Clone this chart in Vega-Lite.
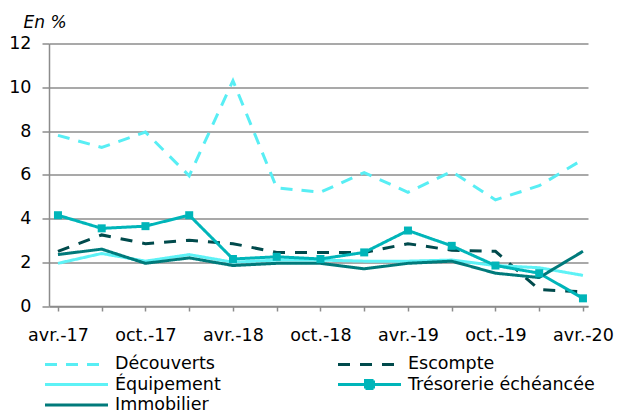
{
  "$schema": "https://vega.github.io/schema/vega-lite/v6.json",
  "width": 539,
  "height": 262.5,
  "autosize": {"type": "none"},
  "padding": {"left": 49, "top": 43.5, "right": 29, "bottom": 108},
  "background": "white",
  "config": {
    "view": {"stroke": null},
    "font": "DejaVu Sans"
  },
  "data": {
    "values": [
      {"periode": "avr.-17", "serie": "Découverts", "taux": 7.8},
      {"periode": "juil.-17", "serie": "Découverts", "taux": 7.25},
      {"periode": "oct.-17", "serie": "Découverts", "taux": 7.95},
      {"periode": "janv.-18", "serie": "Découverts", "taux": 5.95},
      {"periode": "avr.-18", "serie": "Découverts", "taux": 10.3},
      {"periode": "juil.-18", "serie": "Découverts", "taux": 5.4},
      {"periode": "oct.-18", "serie": "Découverts", "taux": 5.2},
      {"periode": "janv.-19", "serie": "Découverts", "taux": 6.1},
      {"periode": "avr.-19", "serie": "Découverts", "taux": 5.2},
      {"periode": "juil.-19", "serie": "Découverts", "taux": 6.15},
      {"periode": "oct.-19", "serie": "Découverts", "taux": 4.85},
      {"periode": "janv.-20", "serie": "Découverts", "taux": 5.5},
      {"periode": "avr.-20", "serie": "Découverts", "taux": 6.7},
      {"periode": "avr.-17", "serie": "Escompte", "taux": 2.5},
      {"periode": "juil.-17", "serie": "Escompte", "taux": 3.25},
      {"periode": "oct.-17", "serie": "Escompte", "taux": 2.85},
      {"periode": "janv.-18", "serie": "Escompte", "taux": 3.0},
      {"periode": "avr.-18", "serie": "Escompte", "taux": 2.85},
      {"periode": "juil.-18", "serie": "Escompte", "taux": 2.45},
      {"periode": "oct.-18", "serie": "Escompte", "taux": 2.45},
      {"periode": "janv.-19", "serie": "Escompte", "taux": 2.45},
      {"periode": "avr.-19", "serie": "Escompte", "taux": 2.85},
      {"periode": "juil.-19", "serie": "Escompte", "taux": 2.55},
      {"periode": "oct.-19", "serie": "Escompte", "taux": 2.5},
      {"periode": "janv.-20", "serie": "Escompte", "taux": 0.75},
      {"periode": "avr.-20", "serie": "Escompte", "taux": 0.65},
      {"periode": "avr.-17", "serie": "Équipement", "taux": 1.95},
      {"periode": "juil.-17", "serie": "Équipement", "taux": 2.4},
      {"periode": "oct.-17", "serie": "Équipement", "taux": 2.05},
      {"periode": "janv.-18", "serie": "Équipement", "taux": 2.35},
      {"periode": "avr.-18", "serie": "Équipement", "taux": 2.0},
      {"periode": "juil.-18", "serie": "Équipement", "taux": 2.1},
      {"periode": "oct.-18", "serie": "Équipement", "taux": 2.1},
      {"periode": "janv.-19", "serie": "Équipement", "taux": 2.05},
      {"periode": "avr.-19", "serie": "Équipement", "taux": 2.05},
      {"periode": "juil.-19", "serie": "Équipement", "taux": 2.1},
      {"periode": "oct.-19", "serie": "Équipement", "taux": 1.85},
      {"periode": "janv.-20", "serie": "Équipement", "taux": 1.75},
      {"periode": "avr.-20", "serie": "Équipement", "taux": 1.4},
      {"periode": "avr.-17", "serie": "Trésorerie échéancée", "taux": 4.15},
      {"periode": "juil.-17", "serie": "Trésorerie échéancée", "taux": 3.55},
      {"periode": "oct.-17", "serie": "Trésorerie échéancée", "taux": 3.65},
      {"periode": "janv.-18", "serie": "Trésorerie échéancée", "taux": 4.15},
      {"periode": "avr.-18", "serie": "Trésorerie échéancée", "taux": 2.15},
      {"periode": "juil.-18", "serie": "Trésorerie échéancée", "taux": 2.25},
      {"periode": "oct.-18", "serie": "Trésorerie échéancée", "taux": 2.15},
      {"periode": "janv.-19", "serie": "Trésorerie échéancée", "taux": 2.45},
      {"periode": "avr.-19", "serie": "Trésorerie échéancée", "taux": 3.45},
      {"periode": "juil.-19", "serie": "Trésorerie échéancée", "taux": 2.75},
      {"periode": "oct.-19", "serie": "Trésorerie échéancée", "taux": 1.85},
      {"periode": "janv.-20", "serie": "Trésorerie échéancée", "taux": 1.5},
      {"periode": "avr.-20", "serie": "Trésorerie échéancée", "taux": 0.35},
      {"periode": "avr.-17", "serie": "Immobilier", "taux": 2.35},
      {"periode": "juil.-17", "serie": "Immobilier", "taux": 2.6},
      {"periode": "oct.-17", "serie": "Immobilier", "taux": 1.95},
      {"periode": "janv.-18", "serie": "Immobilier", "taux": 2.2},
      {"periode": "avr.-18", "serie": "Immobilier", "taux": 1.85},
      {"periode": "juil.-18", "serie": "Immobilier", "taux": 1.95},
      {"periode": "oct.-18", "serie": "Immobilier", "taux": 1.95},
      {"periode": "janv.-19", "serie": "Immobilier", "taux": 1.7},
      {"periode": "avr.-19", "serie": "Immobilier", "taux": 1.95},
      {"periode": "juil.-19", "serie": "Immobilier", "taux": 2.05},
      {"periode": "oct.-19", "serie": "Immobilier", "taux": 1.5},
      {"periode": "janv.-20", "serie": "Immobilier", "taux": 1.3},
      {"periode": "avr.-20", "serie": "Immobilier", "taux": 2.5}
    ]
  },
  "encoding": {
    "x": {
      "field": "periode",
      "type": "ordinal",
      "sort": null,
      "scale": {"type": "point", "padding": 0.16, "align": 0.64},
      "axis": {
        "title": null,
        "labelAngle": 0,
        "labelExpr": "indexof(datum.label, 'avr') == 0 || indexof(datum.label, 'oct') == 0 ? datum.label : ''",
        "labelFontSize": 17.5,
        "labelColor": "#000000",
        "labelPadding": 15,
        "tickSize": 5,
        "tickColor": "#8c8c8c",
        "tickWidth": 1.5,
        "domainColor": "#8c8c8c",
        "domainWidth": 1.5,
        "grid": false
      }
    },
    "y": {
      "field": "taux",
      "type": "quantitative",
      "scale": {"domain": [0, 12], "nice": false},
      "axis": {
        "title": "En %",
        "titleAngle": 0,
        "titleAlign": "left",
        "titleBaseline": "alphabetic",
        "titleX": -26,
        "titleY": -16,
        "titleFontSize": 17,
        "titleFontStyle": "italic",
        "titleFontWeight": "normal",
        "titleColor": "#000000",
        "values": [0, 2, 4, 6, 8, 10, 12],
        "labelFontSize": 17.5,
        "labelColor": "#000000",
        "labelPadding": 11,
        "tickSize": 7,
        "tickColor": "#8c8c8c",
        "tickWidth": 1.5,
        "domainColor": "#8c8c8c",
        "domainWidth": 1.5,
        "grid": true,
        "gridColor": "#8c8c8c",
        "gridWidth": 1.5
      }
    }
  },
  "layer": [
    {
      "mark": {"type": "line", "strokeWidth": 3},
      "encoding": {
        "color": {
          "field": "serie",
          "type": "nominal",
          "scale": {
            "domain": ["Découverts", "Escompte", "Équipement", "Trésorerie échéancée", "Immobilier"],
            "range": ["#58EEF4", "#004A4C", "#5EF2F6", "#00B5B9", "#007A7B"]
          },
          "legend": {
            "title": null,
            "orient": "none",
            "direction": "horizontal",
            "legendX": 18.75,
            "legendY": 311.75,
            "columns": 2,
            "padding": 0,
            "symbolType": "M-6.3,0L6.3,0",
            "symbolSize": 100,
            "symbolStrokeWidth": 3,
            "labelFontSize": 17.5,
            "labelColor": "#000000",
            "labelOffset": 29.75,
            "labelLimit": 400,
            "rowPadding": 0.5,
            "columnPadding": 110,
            "encode": {
              "symbols": {
                "update": {
                  "shape": {"signal": "datum.value === 'Trésorerie échéancée' ? 'M-6.3,0L6.3,0M-0.8,-0.8L0.8,-0.8L0.8,0.8L-0.8,0.8Z' : 'M-6.3,0L6.3,0'"},
                  "fill": {"signal": "datum.value === 'Trésorerie échéancée' ? '#00B5B9' : 'transparent'"},
                  "opacity": {"value": 1}
                }
              }
            }
          }
        },
        "strokeDash": {
          "field": "serie",
          "type": "nominal",
          "scale": {
            "domain": ["Découverts", "Escompte", "Équipement", "Trésorerie échéancée", "Immobilier"],
            "range": [[12, 9], [12, 10], [1, 0], [1, 0], [1, 0]]
          }
        }
      }
    },
    {
      "transform": [{"filter": "datum.serie === 'Trésorerie échéancée'"}],
      "mark": {"type": "point", "shape": "square", "filled": true, "size": 64, "opacity": 1, "color": "#00B5B9"},
      "encoding": {}
    }
  ]
}
